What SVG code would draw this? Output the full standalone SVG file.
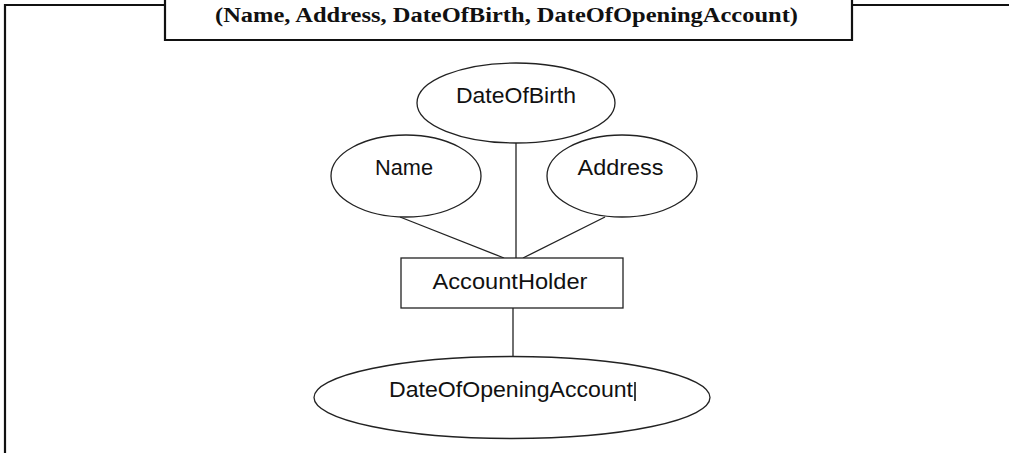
<svg xmlns="http://www.w3.org/2000/svg" width="1009" height="453" viewBox="0 0 1009 453">
<style>
.frame{fill:none;stroke:#111;stroke-width:2.2}
.shape{fill:#fff;stroke:#222;stroke-width:1.3}
.conn{stroke:#222;stroke-width:1.3;fill:none}
.lbl{font-family:"Liberation Sans",Arial,sans-serif;font-size:22px;fill:#111;text-anchor:middle}
.title{font-family:"Liberation Serif","Times New Roman",serif;font-weight:bold;font-size:20.5px;fill:#111;text-anchor:middle}
</style>
<rect width="1009" height="453" fill="#fff"/>
<g id="frame">
<polyline class="frame" points="5,453 5,5 165,5"/>
<line class="frame" x1="852" y1="5" x2="1009" y2="5"/>
<polyline class="frame" points="165,-2 165,40 852,40 852,-2"/>
<text class="title" x="506.5" y="22" textLength="583" lengthAdjust="spacingAndGlyphs">(Name, Address, DateOfBirth, DateOfOpeningAccount)</text>
</g>
<g id="connectors">
<line class="conn" x1="516" y1="143" x2="516" y2="258"/>
<line class="conn" x1="400" y1="217" x2="504" y2="258"/>
<line class="conn" x1="605" y1="217" x2="523" y2="258"/>
<line class="conn" x1="513" y1="308" x2="513" y2="357"/>
</g>
<g id="DateOfBirth">
<ellipse class="shape" cx="516" cy="103" rx="99" ry="40"/>
<text class="lbl" x="516" y="103" textLength="120" lengthAdjust="spacingAndGlyphs">DateOfBirth</text>
</g>
<g id="Name">
<ellipse class="shape" cx="406" cy="176" rx="75" ry="41"/>
<text class="lbl" x="404" y="175" textLength="58" lengthAdjust="spacingAndGlyphs">Name</text>
</g>
<g id="Address">
<ellipse class="shape" cx="622" cy="176" rx="75" ry="41"/>
<text class="lbl" x="620.5" y="175" textLength="86" lengthAdjust="spacingAndGlyphs">Address</text>
</g>
<g id="AccountHolder">
<rect class="shape" x="401" y="258" width="222" height="50"/>
<text class="lbl" x="510" y="289" textLength="155" lengthAdjust="spacingAndGlyphs">AccountHolder</text>
</g>
<g id="DateOfOpeningAccount">
<ellipse class="shape" cx="512" cy="397.5" rx="198" ry="41"/>
<text class="lbl" x="511" y="397" textLength="244" lengthAdjust="spacingAndGlyphs">DateOfOpeningAccount</text>
<line x1="635" y1="382" x2="635" y2="401" stroke="#111" stroke-width="1.6"/>
</g>
</svg>
